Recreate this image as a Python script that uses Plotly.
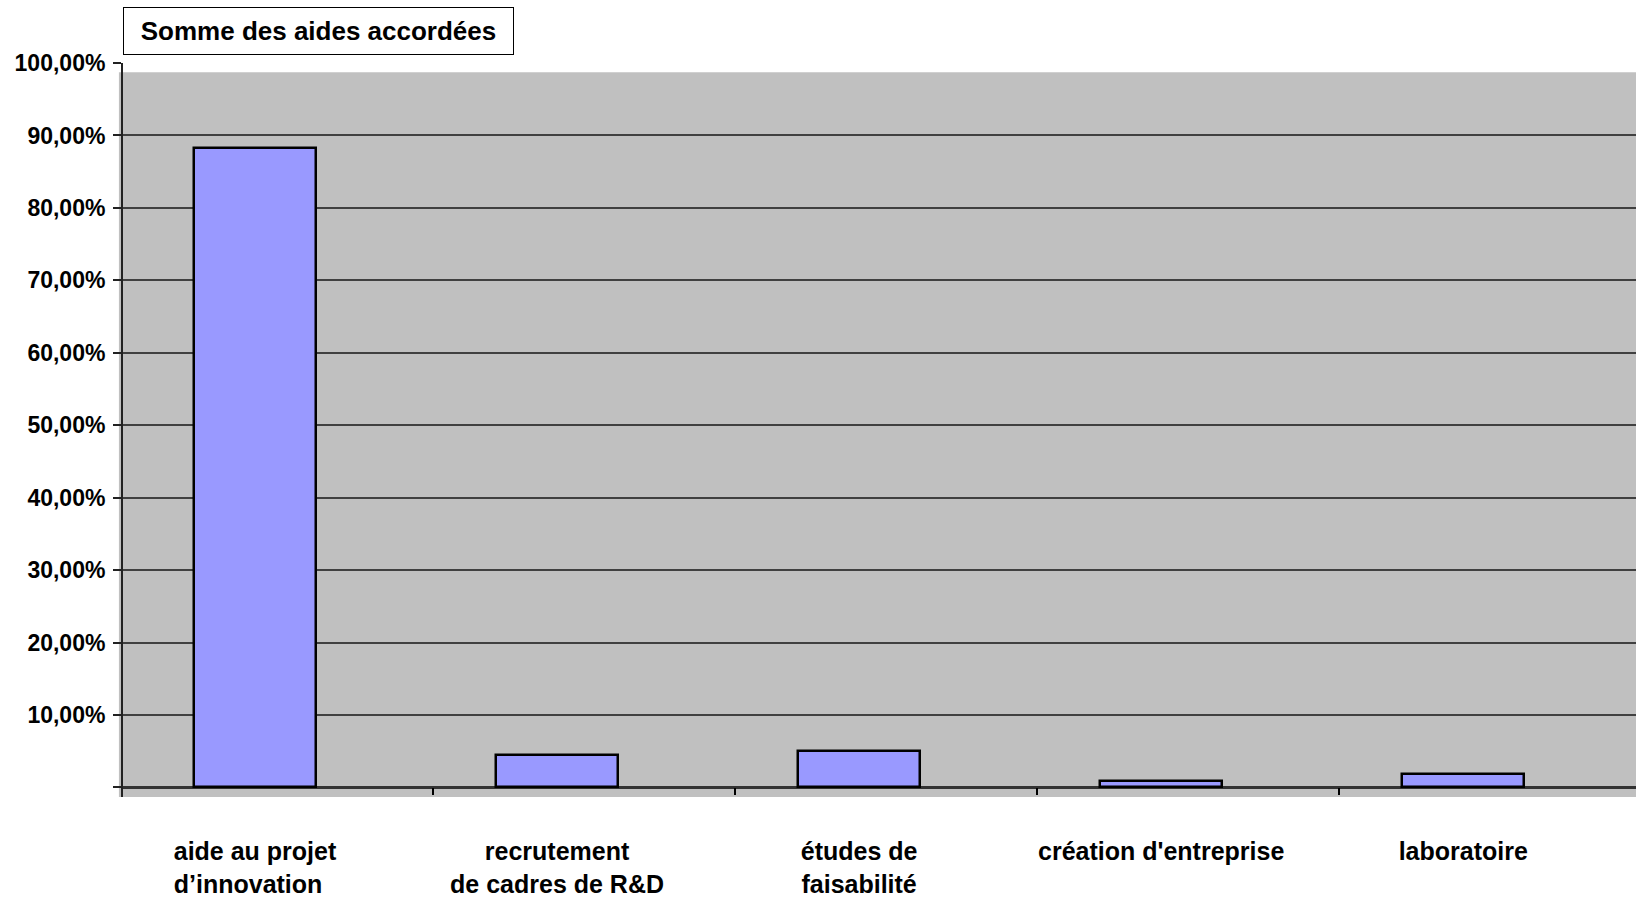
import plotly.graph_objects as go

# ---- data ----
categories = [
    "aide au projet<br>d’innovation\u00a0\u00a0",
    "recrutement<br>de cadres de R&D",
    "études de<br>faisabilité",
    "création d'entreprise",
    "laboratoire",
]
values = [88.2, 4.5, 5.0, 0.95, 1.9]
y_tickvals = [0, 10, 20, 30, 40, 50, 60, 70, 80, 90, 100]
y_ticktext = ["", "10,00%", "20,00%", "30,00%", "40,00%", "50,00%",
              "60,00%", "70,00%", "80,00%", "90,00%", "100,00%"]
title_text = "Somme des aides accordées"

positions = list(range(len(categories)))
boundaries = [p + 0.59 for p in positions[:-1]]

FONT = "Liberation Sans, Arial, sans-serif"

fig = go.Figure()
fig.add_trace(go.Bar(
    x=positions, y=values, width=0.405,
    marker=dict(color="#9999FF", line=dict(color="black", width=2.5)),
    showlegend=False, hoverinfo="skip",
))

fig.update_layout(
    width=1636, height=899,
    margin=dict(l=123, r=0, t=63, b=102),
    paper_bgcolor="white", plot_bgcolor="white",
    bargap=0,
    font=dict(family=FONT, color="black"),
    shapes=[dict(type="rect", xref="paper", yref="paper",
                 x0=-0.0027, x1=1.0, y0=0, y1=0.9873,
                 fillcolor="#C0C0C0", line=dict(width=0), layer="below")],
    annotations=[dict(text="<b>" + title_text + "</b>", xref="paper", yref="paper",
                      x=0.0, y=1.0767, xanchor="left", yanchor="top",
                      showarrow=False, font=dict(size=26, family=FONT, color="black"),
                      bgcolor="white", bordercolor="black", borderwidth=1,
                      borderpad=7, width=375, height=32, align="center")],
)

fig.update_xaxes(
    range=[-0.437, 4.572], anchor="free", position=0.0131,
    tickmode="array", tickvals=positions, ticktext=["<b>%s</b>" % c for c in categories],
    ticks="outside", ticklen=0, tickcolor="rgba(0,0,0,0)",
    minor=dict(tickmode="array", tickvals=boundaries, ticks="outside", ticklen=7,
               tickcolor="black", tickwidth=1.5, showgrid=False),
    showgrid=False, zeroline=False, showline=False,
    tickfont=dict(size=25, family=FONT, color="black"),
    ticklabelstandoff=42,
)
fig.update_yaxes(
    range=[-1.325, 100],
    tickmode="array", tickvals=y_tickvals, ticktext=["<b>%s</b>" % t if t else "" for t in y_ticktext],
    ticks="outside", ticklen=8, tickcolor="#222", tickwidth=1.5,
    showgrid=True, gridcolor="#404040", gridwidth=1.5,
    zeroline=True, zerolinecolor="#333333", zerolinewidth=2.5,
    showline=True, linecolor="#222", linewidth=2,
    tickfont=dict(size=23, family=FONT, color="black"),
    ticklabelstandoff=3,
)

fig.write_html("out.html", config={"displayModeBar": False},
               post_script="document.body.style.margin='0';document.body.style.overflow='hidden';")
